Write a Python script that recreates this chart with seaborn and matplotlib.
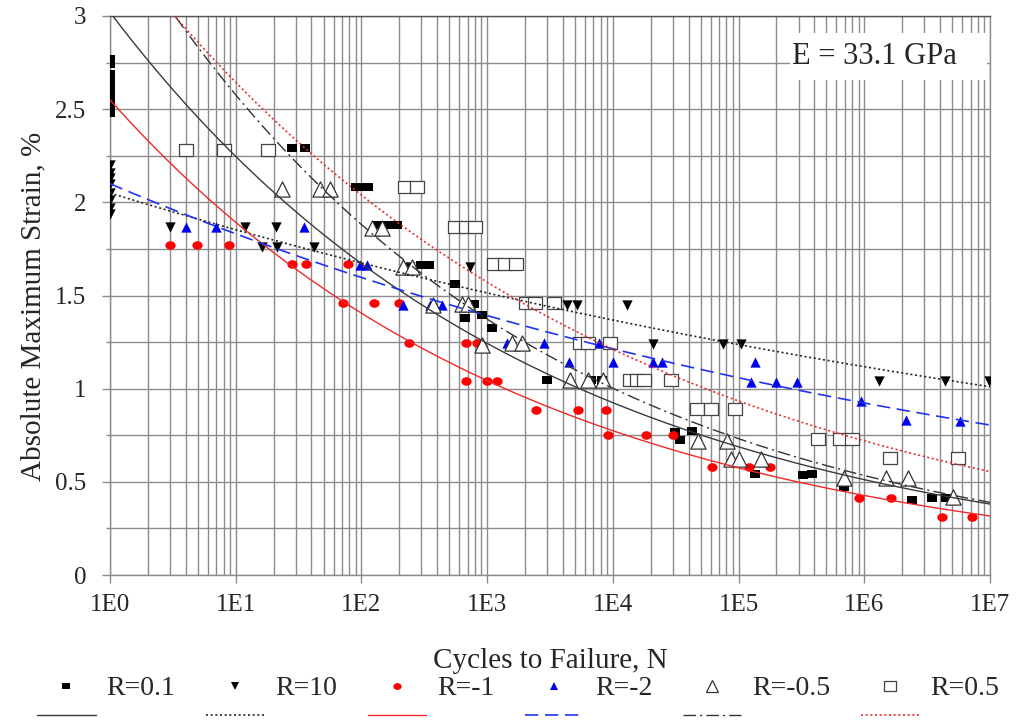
import numpy as np
import pandas as pd
import matplotlib
matplotlib.use("Agg")
import matplotlib.pyplot as plt
from matplotlib.lines import Line2D
from matplotlib.patches import Rectangle
from matplotlib.path import Path
from matplotlib.transforms import Affine2D
from matplotlib.legend_handler import HandlerBase
from matplotlib.ticker import (FixedLocator, LogLocator, MultipleLocator, FuncFormatter,
                               NullFormatter)
import seaborn as sns

# ---------------- data: cycles to failure vs. absolute maximum strain (%) ----------------
r01_cycles = [1, 1, 1, 1, 1, 1, 1, 1, 1, 28, 35.6, 90, 100, 112, 132, 161, 191, 300, 345,
              560, 670, 790, 910, 1100, 2980, 6700, 8200, 31300, 34200, 42900, 134000,
              324000, 382000, 695000, 2.38e6, 3.44e6, 4.47e6]
r01_strain = [2.77, 2.74, 2.69, 2.65, 2.61, 2.57, 2.54, 2.51, 2.48, 2.29, 2.29, 2.08, 2.08,
              2.08, 1.88, 1.88, 1.88, 1.665, 1.665, 1.56, 1.38, 1.455, 1.395, 1.325, 1.045,
              1.045, 1.045, 0.77, 0.725, 0.775, 0.54, 0.535, 0.54, 0.47, 0.403, 0.415, 0.415]

r10_cycles = [1, 1, 1, 1, 1, 1, 1, 1, 3.0, 11.9, 20.9, 16.1, 21.2, 42, 243, 725, 4350, 5200,
              13000, 21000, 75000, 104000, 1.3e6, 4.4e6, 9.9e6]
r10_strain = [2.20, 2.16, 2.13, 2.10, 2.05, 2.01, 1.97, 1.94, 1.87, 1.87, 1.87, 1.76, 1.76,
              1.76, 1.655, 1.655, 1.45, 1.45, 1.45, 1.24, 1.24, 1.24, 1.04, 1.04, 1.04]

rm1_cycles = [3.0, 4.9, 8.85, 27.9, 36, 78.7, 71, 126, 200, 241, 679, 827, 679, 1000, 1190,
              2430, 5250, 8770, 9100, 18300, 30000, 61100, 120000, 178000, 900000, 1.63e6,
              4.13e6, 7.24e6]
rm1_strain = [1.77, 1.77, 1.77, 1.668, 1.668, 1.668, 1.458, 1.458, 1.458, 1.247, 1.247, 1.247,
              1.043, 1.043, 1.043, 0.888, 0.888, 0.888, 0.751, 0.751, 0.751, 0.578, 0.578,
              0.578, 0.415, 0.415, 0.313, 0.313]

rm2_cycles = [4.0, 7.0, 34.9, 97.5, 110, 215, 350, 437, 1430, 2850, 7810, 4510, 9960, 21000,
              24500, 134000, 126000, 199000, 294000, 944000, 2.15e6, 5.78e6]
rm2_strain = [1.87, 1.87, 1.87, 1.664, 1.664, 1.449, 1.449, 1.449, 1.247, 1.247, 1.247, 1.142,
              1.142, 1.142, 1.142, 1.142, 1.034, 1.034, 1.034, 0.934, 0.832, 0.828]

rm05_cycles = [23.4, 47, 56, 121, 145, 215, 251, 370, 627, 708, 906, 1570, 1884, 4570, 6390,
               8410, 48000, 80500, 87100, 101500, 151000, 695000, 1.49e6, 2.24e6, 5.1e6]
rm05_strain = [2.07, 2.07, 2.07, 1.86, 1.86, 1.655, 1.655, 1.45, 1.455, 1.455, 1.235, 1.247,
               1.247, 1.047, 1.047, 1.047, 0.72, 0.72, 0.621, 0.621, 0.621, 0.519, 0.519,
               0.519, 0.42]

r05_cycles = [4.0, 8.1, 18.1, 222, 275, 556, 679, 801, 1140, 1380, 1690, 2050, 2400, 3400,
              5480, 6390, 9500, 13600, 15500, 17700, 29000, 46800, 60400, 93800, 431000,
              642000, 795000, 1.6e6, 5.6e6]
r05_strain = [2.28, 2.28, 2.28, 2.08, 2.08, 1.87, 1.87, 1.87, 1.668, 1.668, 1.668, 1.46, 1.46,
              1.46, 1.247, 1.247, 1.247, 1.045, 1.045, 1.045, 1.045, 0.893, 0.893, 0.893,
              0.73, 0.73, 0.73, 0.626, 0.626]

series_labels = ["R=0.1", "R=10", "R=-1", "R=-2", "R=-0.5", "R=0.5"]
# power-law trend lines: strain = a * N**b
fit_a = [3.02, 2.05, 2.55, 2.10, 3.53, 3.43]
fit_b = [-0.1285, -0.0439, -0.1294, -0.0595, -0.1367, -0.113]

x_tick_exponents = [0, 1, 2, 3, 4, 5, 6, 7]
modulus_note = "E = 33.1 GPa"

# ---------------- assemble long-form table ----------------
all_cycles = [r01_cycles, r10_cycles, rm1_cycles, rm2_cycles, rm05_cycles, r05_cycles]
all_strain = [r01_strain, r10_strain, rm1_strain, rm2_strain, rm05_strain, r05_strain]
points = pd.concat(
    [pd.DataFrame({"cycles": c, "strain": s, "R": lbl})
     for c, s, lbl in zip(all_cycles, all_strain, series_labels)],
    ignore_index=True)

# ---------------- styling ----------------
sns.set_style("white")
plt.rcParams["font.family"] = ["Liberation Serif", "DejaVu Serif"]

wide_rect = Path([(-0.6, -0.5), (0.6, -0.5), (0.6, 0.5), (-0.6, 0.5), (-0.6, -0.5)],
                 [Path.MOVETO, Path.LINETO, Path.LINETO, Path.LINETO, Path.CLOSEPOLY])
oval = Path.unit_circle().transformed(Affine2D().scale(1.2, 1.0))

marker_style = {
    "R=0.1": dict(marker=wide_rect, s=55, color="black", facecolor="black", edgecolor="black", linewidth=0),
    "R=10": dict(marker="v", s=55, color="black", facecolor="black", edgecolor="black", linewidth=0),
    "R=-1": dict(marker=oval, s=55, color="#ff0000", facecolor="#ff0000", edgecolor="#ff0000", linewidth=0),
    "R=-2": dict(marker="^", s=55, color="#0000ee", facecolor="#0000ee", edgecolor="#0000ee", linewidth=0),
    "R=-0.5": dict(marker="^", s=120, color="#333333", facecolor="white", edgecolor="#333333", linewidth=0.9),
    "R=0.5": dict(marker=wide_rect, s=105, color="#444444", facecolor="white", edgecolor="#444444", linewidth=0.9),
}
line_style = {
    "R=0.1": dict(color="#3a3a3a", linestyle="-", linewidth=1.0),
    "R=10": dict(color="#222222", linestyle=(0, (1.2, 1.6)), linewidth=1.2),
    "R=-1": dict(color="#ee2a2a", linestyle="-", linewidth=1.0),
    "R=-2": dict(color="#2233ee", linestyle=(0, (8, 4)), linewidth=1.2),
    "R=-0.5": dict(color="#333333", linestyle=(0, (9, 3, 1.5, 3)), linewidth=1.0),
    "R=0.5": dict(color="#ee2a2a", linestyle=(0, (1.2, 1.6)), linewidth=1.2),
}

fig = plt.figure(figsize=(10.2, 7.21), dpi=100)
ax = fig.add_axes([110 / 1020, 1 - 575 / 721, 880 / 1020, 559 / 721])

n_grid = np.logspace(0, 7, 400)
for lbl, a, b in zip(series_labels, fit_a, fit_b):
    sub = points[points["R"] == lbl]
    sns.scatterplot(data=sub, x="cycles", y="strain", ax=ax, legend=False, zorder=3,
                    **marker_style[lbl])
    sns.lineplot(x=n_grid, y=a * n_grid ** b, ax=ax, legend=False, zorder=4,
                 errorbar=None, sort=True, **line_style[lbl])

ax.set_xscale("log")
ax.set_xlim(1, 1e7)
ax.set_ylim(0, 3)
ax.xaxis.set_major_locator(FixedLocator([10.0 ** e for e in x_tick_exponents]))
ax.xaxis.set_minor_locator(LogLocator(base=10, subs=np.arange(2, 10), numticks=20))
ax.xaxis.set_minor_formatter(NullFormatter())
ax.xaxis.set_major_formatter(FuncFormatter(lambda v, p: f"1E{int(round(np.log10(v)))}"))
ax.yaxis.set_major_locator(MultipleLocator(0.5))
ax.yaxis.set_minor_locator(MultipleLocator(0.25))
ax.yaxis.set_major_formatter(FuncFormatter(lambda v, p: f"{v:g}"))

grid_color = "#8c8c8c"
ax.grid(which="both", color=grid_color, linewidth=1.0)
ax.set_axisbelow(True)
for sp in ax.spines.values():
    sp.set_color(grid_color)
    sp.set_linewidth(1.0)
ax.spines["top"].set_color("#555555")
ax.tick_params(which="major", direction="out", length=6, width=1, color=grid_color,
               labelsize=18, pad=8, left=True, bottom=True)
ax.tick_params(axis="y", which="major", pad=11)
ax.tick_params(which="minor", direction="out", length=3, width=1, color=grid_color,
               left=True, bottom=False)

ax.set_xlabel("Cycles to Failure, N", fontsize=21)
ax.set_ylabel("Absolute Maximum Strain, %", fontsize=21)
ax.xaxis.set_label_coords(0.5, -0.13)
ax.yaxis.set_label_coords(-0.072, 0.48)

# white panel behind the modulus note
ax.add_patch(Rectangle((0.773, 0.886), 0.224, 0.083, transform=ax.transAxes,
                       facecolor="white", edgecolor="none", zorder=5))
ax.text(0.869, 0.927, modulus_note, transform=ax.transAxes, ha="center", va="center",
        fontsize=22, zorder=6)


# legend entries: marker sample above a short line sample
class MarkerOverLine(HandlerBase):
    def create_artists(self, legend, orig_handle, xdescent, ydescent, width, height,
                       fontsize, trans):
        mk, ln = orig_handle
        xc = width / 2 - xdescent
        yc = height / 2 - ydescent
        y_line = yc - 1.05 * fontsize
        sample = Line2D([-xdescent, width - xdescent], [y_line, y_line])
        sample.update_from(ln)
        sample.set_transform(trans)
        dot = Line2D([xc], [yc])
        dot.update_from(mk)
        dot.set_transform(trans)
        return [sample, dot]


def marker_proxy(lbl):
    st = marker_style[lbl]
    return Line2D([], [], linestyle="none", marker=st["marker"],
                  markersize=np.sqrt(st["s"]) * 0.8,
                  markerfacecolor=st["facecolor"], markeredgecolor=st["edgecolor"],
                  markeredgewidth=st["linewidth"])


def line_proxy(lbl):
    return Line2D([], [], **line_style[lbl])


handles = [(marker_proxy(l), line_proxy(l)) for l in series_labels]
fig.legend(handles, series_labels, loc="center", bbox_to_anchor=(0.508, 0.045), ncol=6,
           frameon=False, fontsize=20, handlelength=2.1, handletextpad=0.4,
           columnspacing=1.1,
           handler_map={tuple: MarkerOverLine(update_func=lambda h, o: None)})

fig.savefig("out.png", dpi=100)
